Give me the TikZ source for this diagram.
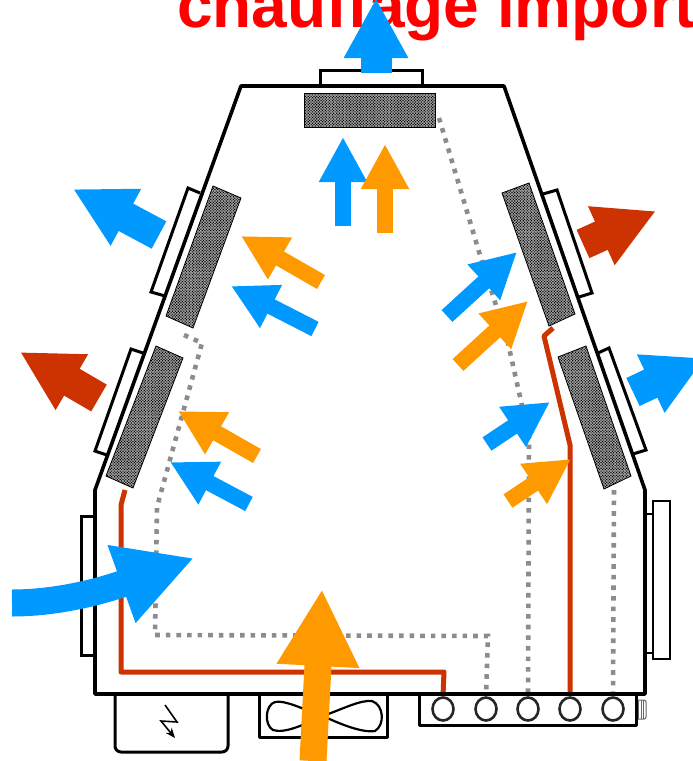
\documentclass[tikz,border=0pt]{standalone}
\usepackage{xcolor}
\usepackage{fontspec}
\setmainfont{Liberation Sans}
\definecolor{cBlue}{HTML}{0099FF}
\definecolor{cOrange}{HTML}{FF9900}
\definecolor{cRust}{HTML}{CC3300}
\definecolor{cDot}{HTML}{8C8C8C}
\definecolor{cTitle}{HTML}{FF0000}
\usetikzlibrary{arrows.meta,patterns.meta,shapes.geometric}
\tikzset{
  wall/.style={draw=black,line width=3.6pt,line join=round},
  window/.style={draw=black,line width=3pt,fill=white,line join=miter},
  panel/.style={draw=black,line width=0.8pt,fill=black!35,postaction={pattern={Dots[distance=2pt,radius=0.8pt,angle=45]},pattern color=black}},
  coil/.style={draw=black!85,line width=2.6pt,fill=white,ellipse,minimum width=21pt,minimum height=23pt,inner sep=0pt},
  pipe-hot/.style={draw=cRust,line width=5pt,line join=round},
  pipe-cold/.style={draw=cDot,line width=4.6pt,dash pattern=on 4.6pt off 6pt},
  flow-big/.style={line width=31pt,-{Triangle[length=60pt,width=60pt]}},
  flow-mid/.style={line width=16pt,-{Triangle[length=45pt,width=45pt]}},
  flow-huge/.style={line width=27pt,-{Triangle[length=77pt,width=77pt]}},
}
\begin{document}
\begin{tikzpicture}[x=1pt,y=-1pt]
  \clip (0,0) rectangle (693,761);
  \node[anchor=base west,inner sep=0pt,text=cTitle,font=\fontsize{64}{64}\selectfont\bfseries] (title) at (177,27) {chauffage import};
  % coil bank and bottom boxes
  \draw[wall,line width=3pt,rounded corners=6pt] (115,694) -- (115,752) -- (228,752) -- (228,694);
  \draw[line width=1.6pt,-{Stealth[length=10pt,width=8pt]}] (165,705) -- (177,722) -- (161,721) -- (175,738);
  \draw[wall,line width=3pt] (259,694) rectangle (387,737);
  \draw[line width=2.2pt] (323,716) .. controls (300,708) and (285,700) .. (275,702) .. controls (265,705) and (264,725) .. (273,730) .. controls (285,734) and (305,724) .. (323,716)
    .. controls (345,708) and (360,700) .. (372,701) .. controls (384,705) and (385,725) .. (375,731) .. controls (362,733) and (340,724) .. (323,716);
  \draw[draw=black!60,line width=1pt,rounded corners=2pt] (636,700) rectangle (646,719);
  \foreach \x in {638.5,641,643.5}
    \draw[black!60,line width=0.8pt] (\x,700) -- (\x,719);
  \draw[wall,line width=3pt] (419,694) rectangle (636,725);
  \foreach \i/\x in {1/443,2/486,3/528,4/570,5/613}
    \node[coil] (c\i) at (\x,709) {};
  % cold and hot pipes
  \draw[pipe-cold] (184,335) -- (202,343) -- (157,507) -- (155,635) -- (488,636) -- (c2.north);
  \draw[pipe-cold] (439,118) -- (480,255) -- (508,343) -- (529,437) -- (c3.north);
  \draw[pipe-cold] (614,490) -- (c5.north);
  \draw[pipe-hot] (125,490) -- (121,505) -- (121,672) -- (444,672) -- (c1.north);
  \draw[pipe-hot] (553,328) -- (544,336) -- (570,445) -- (c4.north);
  % casing
  \draw[window] (320,86) -- (320,70) -- (422,70) -- (422,86);
  \draw[window] (200,193) -- (188,188) -- (151,292) -- (165,296);
  \draw[window] (143,353) -- (131,349) -- (95,451) -- (107,455);
  \draw[window] (543,194) -- (557,190) -- (592,293) -- (579,297);
  \draw[window] (598,353) -- (609,348) -- (646,450) -- (633,454);
  \draw[window] (95,516) -- (81,516) -- (81,655) -- (95,655);
  \draw[window,line width=2.4pt] (645,514) -- (653,514);
  \draw[window,line width=2.4pt] (645,653) -- (653,653);
  \draw[window,line width=2.4pt] (653,501) rectangle (670,659);
  \draw[wall] (95,694) -- (95,490) -- (241,86) -- (504,86) -- (645,490) -- (645,694) -- cycle;
  \node[panel,inner sep=0pt,minimum width=131pt,minimum height=34pt] (top-panel) at (369.5,110) {};
  \draw[panel] (213,186) -- (241,198) -- (193,328) -- (166,316) -- cycle;
  \draw[panel] (156,346) -- (183,358) -- (133,488) -- (106,476) -- cycle;
  \draw[panel] (502,193) -- (529,183) -- (575,314) -- (549,326) -- cycle;
  \draw[panel] (558,357) -- (586,346) -- (631,476) -- (604,489) -- cycle;
  % air flows
  \draw[flow-big,cBlue] (376,73) -- (376,-2);
  \draw[flow-big,cBlue] (159,235) -- (73,189);
  \draw[flow-big,cRust] (99,398) -- (20,352);
  \draw[flow-big,cRust] (583,244) -- (656,211);
  \draw[flow-big,cBlue] (633,392) -- (705,358);
  \draw[flow-mid,cBlue] (343,226) -- (343,137);
  \draw[flow-mid,cOrange] (385,233) -- (385,144);
  \draw[flow-mid,cOrange] (321,282) -- (241,236);
  \draw[flow-mid,cBlue] (315,329) -- (231,286);
  \draw[flow-mid,cOrange] (257,456) -- (178,411);
  \draw[flow-mid,cBlue] (249,504) -- (170,462);
  \draw[flow-mid,cBlue] (447,316) -- (517,252);
  \draw[flow-mid,cOrange] (458,365) -- (528,301);
  \draw[flow-mid,cBlue] (487,444) -- (550,402);
  \draw[flow-mid,cOrange] (508,501) -- (571,459);
  \draw[flow-huge,cOrange] (313,761) -- (322,589);
  \draw[flow-huge,cBlue] (12,603) .. controls (60,603) and (105,590) .. (194,558);
\end{tikzpicture}
\end{document}
